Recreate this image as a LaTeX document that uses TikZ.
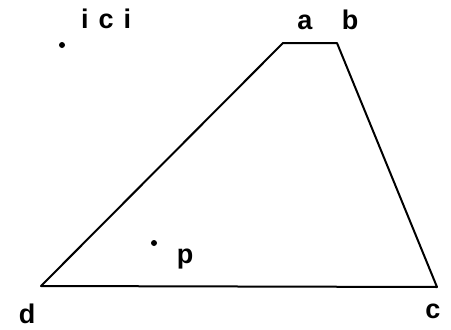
\documentclass[tikz,border=0pt]{standalone}
\usepackage{fontspec}
\setmainfont{Liberation Sans}
\begin{document}
\begin{tikzpicture}[x=1pt,y=-1pt,
    lbl/.style={font=\fontsize{27}{30}\selectfont\bfseries,inner sep=0pt},
    pt/.style={circle,fill=black,inner sep=0pt,minimum size=6pt}]
        \useasboundingbox (0,0) rectangle (451,330);

        % Corners of the quadrilateral
        \coordinate (a) at (283,43);
        \coordinate (b) at (337,43);
        \coordinate (c) at (437,287);
        \coordinate (d) at (41,286);
        \draw[line width=2pt,line join=round] (a) -- (b) -- (c) -- (d) -- cycle;

        % Corner labels
        \node[lbl] (la) at (305,22) {a};
        \node[lbl] (lb) at (350,20) {b};
        \node[lbl] (lc) at (433,311) {c};
        \node[lbl] (ld) at (27,314) {d};

        % The two marked points
        \node[pt] (ici) at (62,45) {};
        \node[lbl,anchor=west] (lici) at (81,19) {i\hspace{10pt}c\hspace{10pt}i};
        \node[pt] (p) at (154,243) {};
        \node[lbl] (lp) at (185,259) {p};
    \end{tikzpicture}
\end{document}
